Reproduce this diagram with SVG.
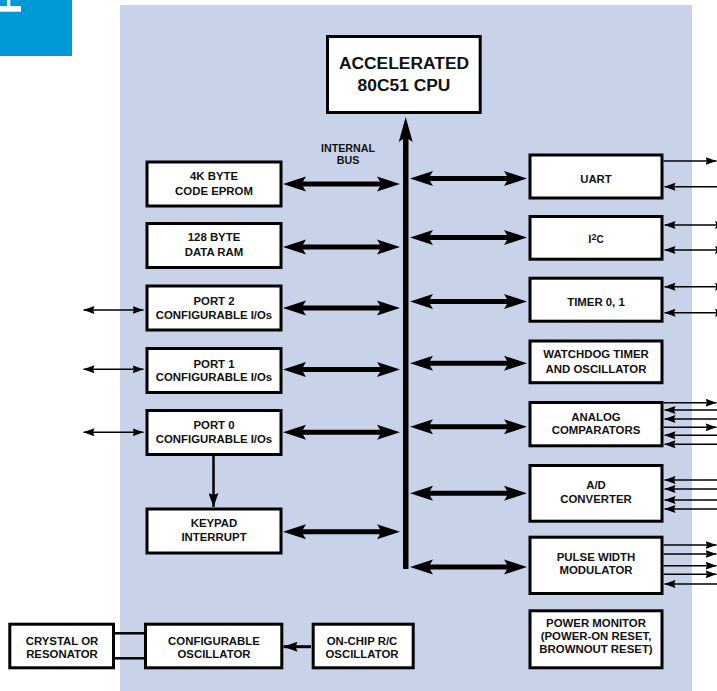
<svg xmlns="http://www.w3.org/2000/svg" width="717" height="691" viewBox="0 0 717 691">
<style>
.box{fill:#fff;stroke:#000;stroke-width:3}
.lbl{font-family:"Liberation Sans",Arial,sans-serif;font-weight:bold;font-size:11.4px;text-anchor:middle;fill:#111}
.thin{stroke:#000;stroke-width:1.6;fill:none}
.out{marker-end:url(#ah)}
.in{marker-start:url(#ah)}
.bi{marker-start:url(#ah);marker-end:url(#ah)}
</style>
<defs>
<marker id="ah" viewBox="0 0 11 8" refX="11" refY="4" markerWidth="11" markerHeight="8" markerUnits="userSpaceOnUse" orient="auto-start-reverse">
<path d="M0,0 L11,4 L0,8 L1.5,4 Z" fill="#000"/>
</marker>
<marker id="ah2" viewBox="0 0 14 10" refX="14" refY="5" markerWidth="14" markerHeight="10" markerUnits="userSpaceOnUse" orient="auto">
<path d="M0,0 L14,5 L0,10 L2,5 Z" fill="#000"/>
</marker>
<path id="busarrow" d="M0,0 L23,-7.5 L20,-2.5 L97,-2.5 L94,-7.5 L117,0 L94,7.5 L97,2.5 L20,2.5 L23,7.5 Z" fill="#000"/>
</defs>

<rect x="0" y="0" width="72" height="56" fill="#0099d8"/>
<rect x="7" y="0" width="3.3" height="6" fill="#fff"/>
<rect x="0" y="6" width="21" height="5.7" fill="#fff"/>

<rect x="120" y="5" width="572" height="690" fill="#c8d3ea"/>

<g id="connectors">
<rect x="403" y="138" width="5.5" height="431" fill="#000"/>
<path d="M405.7,117 L412.7,142 L408.5,139 L403,139 L398.7,142 Z" fill="#000"/>
<use href="#busarrow" x="283" y="184"/>
<use href="#busarrow" x="283" y="247"/>
<use href="#busarrow" x="283" y="308"/>
<use href="#busarrow" x="283" y="369.5"/>
<use href="#busarrow" x="283" y="432.3"/>
<use href="#busarrow" x="283" y="531.7"/>
<use href="#busarrow" x="410" y="178.5"/>
<use href="#busarrow" x="410" y="237.5"/>
<use href="#busarrow" x="410" y="301.5"/>
<use href="#busarrow" x="410" y="363.3"/>
<use href="#busarrow" x="410" y="426.7"/>
<use href="#busarrow" x="410" y="493.3"/>
<use href="#busarrow" x="410" y="567"/>
<line class="thin bi" x1="83.5" y1="310" x2="143.5" y2="310"/>
<line class="thin bi" x1="83.5" y1="369.3" x2="143.5" y2="369.3"/>
<line class="thin bi" x1="83.5" y1="432.3" x2="143.5" y2="432.3"/>
<line x1="213.5" y1="455" x2="213.5" y2="507" stroke="#000" stroke-width="2.5" marker-end="url(#ah2)"/>
<line x1="311" y1="646.7" x2="283.5" y2="646.7" stroke="#000" stroke-width="3" marker-end="url(#ah2)"/>
<line x1="115" y1="633.3" x2="144" y2="633.3" stroke="#000" stroke-width="2.5"/>
<line x1="115" y1="658.3" x2="144" y2="658.3" stroke="#000" stroke-width="2.5"/>
<line class="thin out" x1="663.5" y1="161" x2="716.5" y2="161"/>
<line class="thin in" x1="664.5" y1="186.7" x2="717" y2="186.7"/>
<line class="thin bi" x1="664.5" y1="225" x2="726" y2="225"/>
<line class="thin bi" x1="664.5" y1="250" x2="726" y2="250"/>
<line class="thin bi" x1="664.5" y1="286.7" x2="726" y2="286.7"/>
<line class="thin bi" x1="664.5" y1="312.7" x2="726" y2="312.7"/>
<line class="thin out" x1="663.5" y1="402.7" x2="716.5" y2="402.7"/>
<line class="thin in" x1="664.5" y1="410" x2="717" y2="410"/>
<line class="thin in" x1="664.5" y1="419" x2="717" y2="419"/>
<line class="thin out" x1="663.5" y1="427.3" x2="716.5" y2="427.3"/>
<line class="thin in" x1="664.5" y1="435.3" x2="717" y2="435.3"/>
<line class="thin in" x1="664.5" y1="444.3" x2="717" y2="444.3"/>
<line class="thin in" x1="664.5" y1="480" x2="717" y2="480"/>
<line class="thin in" x1="664.5" y1="489" x2="717" y2="489"/>
<line class="thin in" x1="664.5" y1="500" x2="717" y2="500"/>
<line class="thin in" x1="664.5" y1="509" x2="717" y2="509"/>
<line class="thin out" x1="663.5" y1="545" x2="716.5" y2="545"/>
<line class="thin out" x1="663.5" y1="554" x2="716.5" y2="554"/>
<line class="thin out" x1="663.5" y1="565.7" x2="716.5" y2="565.7"/>
<line class="thin out" x1="663.5" y1="574.3" x2="716.5" y2="574.3"/>
<line class="thin in" x1="664.5" y1="584" x2="717" y2="584"/>
</g>

<g id="cpu">
<rect class="box" x="327.5" y="36.5" width="152.7" height="76"/>
<text class="lbl" x="404" y="69" style="font-size:17.4px">ACCELERATED</text>
<text class="lbl" x="404" y="90.7" style="font-size:17.4px">80C51 CPU</text>
</g>
<g id="internal-bus-label">
<text class="lbl" x="348" y="151.7" style="font-size:10.7px">INTERNAL</text>
<text class="lbl" x="348" y="164" style="font-size:10.7px">BUS</text>
</g>

<g id="eprom">
<rect class="box" x="147" y="162" width="134" height="44"/>
<text class="lbl" x="214" y="180">4K BYTE</text>
<text class="lbl" x="214" y="195">CODE EPROM</text>
</g>
<g id="ram">
<rect class="box" x="147" y="223.5" width="134" height="44"/>
<text class="lbl" x="214" y="241">128 BYTE</text>
<text class="lbl" x="214" y="256">DATA RAM</text>
</g>
<g id="port2">
<rect class="box" x="147" y="286" width="134" height="44"/>
<text class="lbl" x="214" y="305">PORT 2</text>
<text class="lbl" x="214" y="318.7">CONFIGURABLE I/Os</text>
</g>
<g id="port1">
<rect class="box" x="147" y="348.5" width="134" height="44"/>
<text class="lbl" x="214" y="367.5">PORT 1</text>
<text class="lbl" x="214" y="381">CONFIGURABLE I/Os</text>
</g>
<g id="port0">
<rect class="box" x="147" y="410.5" width="134" height="44"/>
<text class="lbl" x="214" y="429.3">PORT 0</text>
<text class="lbl" x="214" y="442.5">CONFIGURABLE I/Os</text>
</g>
<g id="keypad">
<rect class="box" x="147" y="509" width="134" height="44"/>
<text class="lbl" x="214" y="526.7">KEYPAD</text>
<text class="lbl" x="214" y="540.7">INTERRUPT</text>
</g>

<g id="uart">
<rect class="box" x="530" y="155" width="132" height="43"/>
<text class="lbl" x="596" y="182.7">UART</text>
</g>
<g id="i2c">
<rect class="box" x="530" y="216.5" width="132" height="42.7"/>
<text class="lbl" x="596" y="242.7">I<tspan style="font-size:9px" dy="-2.8">2</tspan><tspan style="font-size:10px" dy="2.8">C</tspan></text>
</g>
<g id="timer">
<rect class="box" x="530" y="278.2" width="132" height="43"/>
<text class="lbl" x="596" y="305.7">TIMER 0, 1</text>
</g>
<g id="watchdog">
<rect class="box" x="530" y="341" width="132" height="41.7"/>
<text class="lbl" x="596" y="358.3">WATCHDOG TIMER</text>
<text class="lbl" x="596" y="372.7">AND OSCILLATOR</text>
</g>
<g id="comparators">
<rect class="box" x="530" y="402.5" width="132" height="43.3"/>
<text class="lbl" x="596" y="420.7">ANALOG</text>
<text class="lbl" x="596" y="434.3">COMPARATORS</text>
</g>
<g id="adc">
<rect class="box" x="530" y="465.5" width="132" height="55.7"/>
<text class="lbl" x="596" y="489.3">A/D</text>
<text class="lbl" x="596" y="503.3">CONVERTER</text>
</g>
<g id="pwm">
<rect class="box" x="530" y="537.2" width="132" height="56.3"/>
<text class="lbl" x="596" y="561">PULSE WIDTH</text>
<text class="lbl" x="596" y="574.3">MODULATOR</text>
</g>
<g id="power-monitor">
<rect class="box" x="530" y="610.8" width="132" height="57"/>
<text class="lbl" x="596" y="626.7">POWER MONITOR</text>
<text class="lbl" x="596" y="640">(POWER-ON RESET,</text>
<text class="lbl" x="596" y="653.3">BROWNOUT RESET)</text>
</g>

<g id="crystal">
<rect class="box" x="9.8" y="624.2" width="103.7" height="43.6"/>
<text class="lbl" x="62" y="645">CRYSTAL OR</text>
<text class="lbl" x="62" y="658.3">RESONATOR</text>
</g>
<g id="config-osc">
<rect class="box" x="145.5" y="624.2" width="136.3" height="43.6"/>
<text class="lbl" x="214" y="645">CONFIGURABLE</text>
<text class="lbl" x="214" y="658.3">OSCILLATOR</text>
</g>
<g id="rc-osc">
<rect class="box" x="313.2" y="624.2" width="100" height="43.6"/>
<text class="lbl" x="362" y="645">ON-CHIP R/C</text>
<text class="lbl" x="362" y="658.3">OSCILLATOR</text>
</g>
</svg>
